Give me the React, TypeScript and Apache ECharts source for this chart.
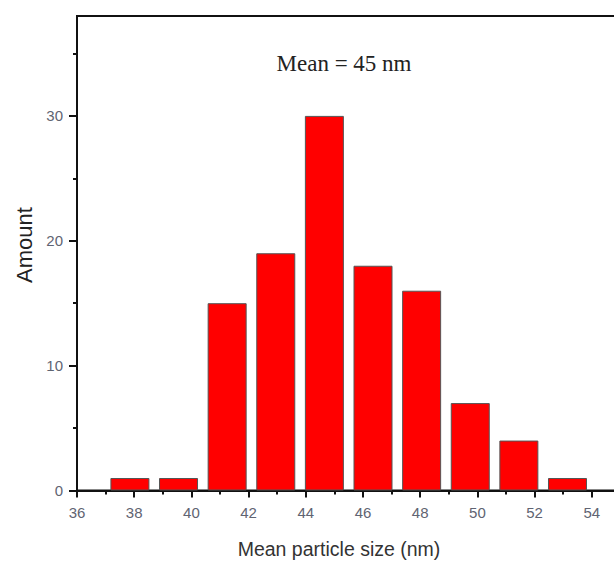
import React, { useEffect, useRef } from "react";
import * as echarts from "echarts";

const binCenters = [37.85, 39.55, 41.25, 42.95, 44.65, 46.35, 48.05, 49.75, 51.45, 53.15];
const amounts = [1, 1, 15, 19, 30, 18, 16, 7, 4, 1];
const yMajorTicks = [0, 10, 20, 30];
const yMinorTicks = [5, 15, 25, 35];
const annotation = "Mean = 45 nm";
const xTitle = "Mean particle size (nm)";
const yTitle = "Amount";

export default function App() {
  const ref = useRef<HTMLDivElement>(null);
  useEffect(() => {
    if (!ref.current) return;
    const chart = echarts.init(ref.current, null, { renderer: "svg" });
    const labelColor = "#5f6472";
    const sans = "Arial, 'Liberation Sans', sans-serif";
    chart.setOption({
      animation: false,
      backgroundColor: "#ffffff",
      grid: {
        left: 77,
        top: 16,
        right: -35,
        bottom: 74.5,
        outerBoundsMode: "none",
        containLabel: false,
        show: true,
        borderColor: "#111",
        borderWidth: 2,
        backgroundColor: "transparent",
      },
      xAxis: {
        type: "value",
        min: 36,
        max: 56,
        interval: 2,
        axisLine: { show: true, onZero: false, lineStyle: { color: "#111", width: 2 } },
        axisTick: { show: true, inside: false, length: 7, lineStyle: { color: "#111", width: 2 } },
        minorTick: { show: true, splitNumber: 2, length: 4, lineStyle: { color: "#111", width: 2 } },
        axisLabel: {
          color: labelColor,
          fontSize: 15,
          fontFamily: sans,
          margin: 14,
          showMaxLabel: false,
        },
        splitLine: { show: false },
      },
      yAxis: [
        {
          type: "value",
          min: 0,
          max: 38,
          position: "left",
          axisLine: { show: true, lineStyle: { color: "#111", width: 2 } },
          axisTick: {
            show: true,
            inside: false,
            length: 8,
            customValues: yMajorTicks,
            lineStyle: { color: "#111", width: 2 },
          },
          axisLabel: {
            color: labelColor,
            fontSize: 15,
            fontFamily: sans,
            margin: 14,
            customValues: yMajorTicks,
          },
          splitLine: { show: false },
        },
        {
          type: "value",
          min: 0,
          max: 38,
          position: "left",
          axisLine: { show: false },
          axisTick: {
            show: true,
            inside: false,
            length: 4,
            customValues: yMinorTicks,
            lineStyle: { color: "#111", width: 2 },
          },
          axisLabel: { show: false },
          splitLine: { show: false },
        },
      ],
      series: [
        {
          type: "bar",
          yAxisIndex: 0,
          barWidth: 39,
          data: binCenters.map((c, i) => [c, amounts[i]]),
          itemStyle: { color: "#ff0000", borderColor: "#555", borderWidth: 1 },
        },
      ],
      graphic: [
        {
          type: "text",
          x: 344,
          y: 63,
          style: {
            text: annotation,
            font: "23px 'Liberation Serif', 'Times New Roman', serif",
            fill: "#222",
            textAlign: "center",
            textVerticalAlign: "middle",
          },
        },
        {
          type: "text",
          x: 339,
          y: 549,
          style: {
            text: xTitle,
            font: "19.5px Arial, 'Liberation Sans', sans-serif",
            fill: "#333",
            textAlign: "center",
            textVerticalAlign: "middle",
          },
        },
        {
          type: "text",
          x: 24,
          y: 245,
          rotation: Math.PI / 2,
          style: {
            text: yTitle,
            font: "22px Arial, 'Liberation Sans', sans-serif",
            fill: "#222",
            textAlign: "center",
            textVerticalAlign: "middle",
          },
        },
      ],
    });
    return () => chart.dispose();
  }, []);
  return (
    <div
      ref={ref}
      style={{ position: "absolute", left: 0, top: 0, width: 614, height: 565 }}
    />
  );
}
